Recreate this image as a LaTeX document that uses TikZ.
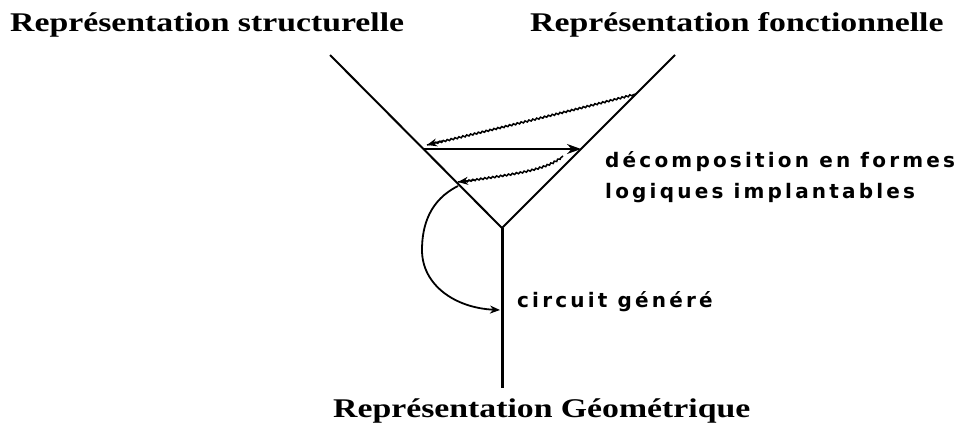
\documentclass[tikz,border=0pt]{standalone}
\usepackage{fontspec}
\usetikzlibrary{arrows.meta,decorations.pathmorphing}
\newfontfamily\titlefont{Liberation Serif Bold}
\newfontfamily\labelfont[LetterSpace=16]{DejaVu Sans Bold}
\newcommand{\ttl}[1]{\scalebox{1.25}[1]{#1}}
\tikzset{
  titlestyle/.style={font=\titlefont\fontsize{27}{30}\selectfont, inner sep=0pt},
  labelstyle/.style={font=\labelfont\fontsize{20}{31}\selectfont, inner sep=0pt, align=left},
  vline/.style={line width=2pt},
  wavy/.style={line width=1.5pt, decorate, decoration={snake, amplitude=0.8pt, segment length=4pt, pre length=3pt, post length=6pt}},
  tip/.style={-{Stealth[length=14pt,width=10pt]}},
  smalltip/.style={-{Stealth[length=10pt,width=8pt]}}
}
\begin{document}
\begin{tikzpicture}[x=1pt,y=-1pt]
\useasboundingbox (0,0) rectangle (973,426);
% the Y
\coordinate (tl) at (330,55);
\coordinate (tr) at (675,55);
\coordinate (j) at (502,228);
\coordinate (b) at (502,388);
\draw[vline] (tl) -- (j) -- (tr);
\draw[line width=3pt] (j) -- (b);
% titles
\node[titlestyle, anchor=west] (ts) at (10,25) {\ttl{Représentation structurelle}};
\node[titlestyle, anchor=west] (tf) at (530,25) {\ttl{Représentation fonctionnelle}};
\node[titlestyle, anchor=west] (tg) at (333,411) {\ttl{Représentation Géométrique}};
% labels
\node[labelstyle, anchor=west] (ld) at (605,177) {décomposition en formes\\logiques implantables};
\node[labelstyle, anchor=west] (lc) at (517,302) {circuit généré};
% connectors
\coordinate (w1s) at (636,94);
\coordinate (w1e) at (427,145);
\coordinate (h1) at (424,149);
\coordinate (h2) at (581,149);
\coordinate (w2s) at (563,156);
\coordinate (w2e) at (458,182);
\coordinate (cs) at (458,186);
\coordinate (ce) at (500,310);
\draw[wavy] (w1s) .. controls (570,111) and (500,128) .. (w1e);
\draw[line width=1.5pt, smalltip] (442,141) -- (w1e);
\draw[line width=1.8pt, tip] (h1) -- (h2);
\draw[wavy] (w2s) .. controls (545,172) and (500,175) .. (w2e);
\draw[line width=1.5pt, smalltip] (475,180) -- (w2e);
\draw[line width=1.8pt, smalltip] (cs) .. controls (430,200) and (422,225) .. (422,250)
  .. controls (422,285) and (455,308) .. (ce);
\end{tikzpicture}
\end{document}
